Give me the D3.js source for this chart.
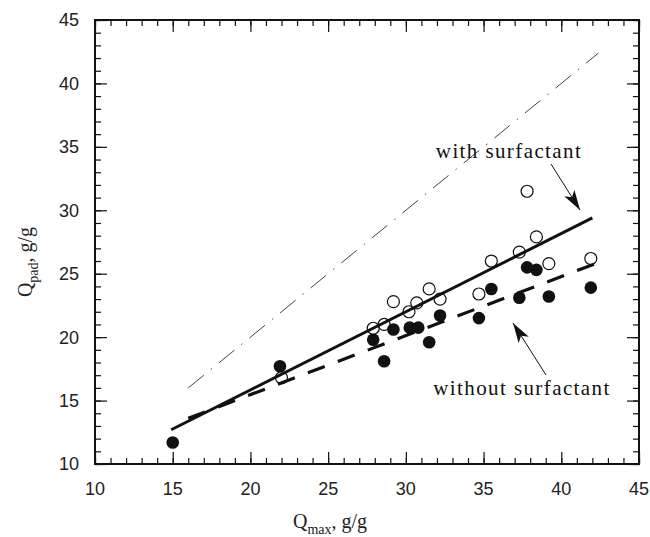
<!DOCTYPE html>
<html><head><meta charset="utf-8">
<script src="https://cdn.jsdelivr.net/npm/d3@7"></script>
<style>body{margin:0;background:#fff}</style>
</head><body>
<svg id="c" width="650" height="537"></svg>
<script>
// ---- data ----
const withX = [22, 27.9, 28.6, 29.2, 30.2, 30.7, 31.5, 32.2, 34.7, 35.5, 37.3, 37.8, 38.4, 39.2, 41.9];
const withY = [16.8, 20.7, 21.0, 22.8, 22.0, 22.7, 23.8, 23.0, 23.4, 26.0, 26.7, 31.5, 27.9, 25.8, 26.2];
const withoutX = [15, 21.9, 27.9, 28.6, 29.2, 30.25, 30.8, 31.5, 32.2, 34.7, 35.5, 37.3, 37.8, 38.4, 39.2, 41.9];
const withoutY = [11.7, 17.7, 19.8, 18.1, 20.6, 20.75, 20.75, 19.6, 21.7, 21.5, 23.8, 23.1, 25.5, 25.3, 23.2, 23.9];
const fitWith = [[14.9, 12.7], [42.0, 29.4]];
const fitWithout = [[16.0, 13.6], [42.2, 25.8]];
const identity = [[16.0, 16.0], [42.4, 42.4]];
const xTicks = [10, 15, 20, 25, 30, 35, 40, 45];
const yTicks = [10, 15, 20, 25, 30, 35, 40, 45];
const minorTicks = d3.range(10, 46, 1);

const svg = d3.select("#c");
const L = 95, R = 639, T = 20, B = 464;
const x = d3.scaleLinear().domain([10, 45]).range([L, R]);
const y = d3.scaleLinear().domain([10, 45]).range([B, T]);

// ticks (inward on all sides)
const g = svg.append("g");
function addAxis(axisGen, transform, tickVals, size) {
  g.append("g").attr("transform", transform)
    .call(axisGen.tickValues(tickVals).tickSize(size).tickFormat(""))
    .call(s => s.select(".domain").remove())
    .call(s => s.selectAll("line").attr("stroke", "#111").attr("stroke-width", 1.2));
}
addAxis(d3.axisTop(x), `translate(0,${B})`, minorTicks, 6);
addAxis(d3.axisTop(x), `translate(0,${B})`, xTicks, 12);
addAxis(d3.axisBottom(x), `translate(0,${T})`, minorTicks, 6);
addAxis(d3.axisBottom(x), `translate(0,${T})`, xTicks, 12);
addAxis(d3.axisRight(y), `translate(${L},0)`, minorTicks, 6);
addAxis(d3.axisRight(y), `translate(${L},0)`, yTicks, 12);
addAxis(d3.axisLeft(y), `translate(${R},0)`, minorTicks, 6);
addAxis(d3.axisLeft(y), `translate(${R},0)`, yTicks, 12);

svg.append("rect").attr("x", L).attr("y", T).attr("width", R - L).attr("height", B - T)
  .attr("fill", "none").attr("stroke", "#111").attr("stroke-width", 2);

// tick labels
svg.append("g").selectAll("text").data(xTicks).join("text")
  .attr("x", d => x(d)).attr("y", 495).attr("text-anchor", "middle")
  .attr("font-family", "Liberation Sans, Arial, sans-serif").attr("font-size", 18).attr("fill", "#222")
  .text(d => d);
svg.append("g").selectAll("text").data(yTicks).join("text")
  .attr("x", 79).attr("y", d => y(d)).attr("dy", "0.36em").attr("text-anchor", "end")
  .attr("font-family", "Liberation Sans, Arial, sans-serif").attr("font-size", 18).attr("fill", "#222")
  .text(d => d);

// axis titles
const serif = "Liberation Serif, Times New Roman, serif";
const xt = svg.append("text").attr("x", 330).attr("y", 528).attr("text-anchor", "middle")
  .attr("font-family", serif).attr("font-size", 20).attr("fill", "#222");
xt.append("tspan").text("Q");
xt.append("tspan").attr("font-size", 14).attr("dy", 6).text("max");
xt.append("tspan").attr("dy", -6).text(", g/g");

const yt = svg.append("text").attr("transform", "translate(32,262) rotate(-90)").attr("text-anchor", "middle")
  .attr("font-family", serif).attr("font-size", 20).attr("fill", "#222");
yt.append("tspan").text("Q");
yt.append("tspan").attr("font-size", 14).attr("dy", 6).text("pad");
yt.append("tspan").attr("dy", -6).text(", g/g");

// lines
const line = d3.line().x(d => x(d[0])).y(d => y(d[1]));
svg.append("path").attr("d", line(identity)).attr("fill", "none").attr("stroke", "#444")
  .attr("stroke-width", 1).attr("stroke-dasharray", "20,9,1.5,9");
svg.append("path").attr("d", line(fitWithout)).attr("fill", "none").attr("stroke", "#111")
  .attr("stroke-width", 3.2).attr("stroke-dasharray", "18,14");
svg.append("path").attr("d", line(fitWith)).attr("fill", "none").attr("stroke", "#111")
  .attr("stroke-width", 3);

// points
svg.append("g").selectAll("circle").data(withoutX.map((v, i) => [v, withoutY[i]])).join("circle")
  .attr("cx", d => x(d[0])).attr("cy", d => y(d[1])).attr("r", 6.3).attr("fill", "#111");
svg.append("g").selectAll("circle").data(withX.map((v, i) => [v, withY[i]])).join("circle")
  .attr("cx", d => x(d[0])).attr("cy", d => y(d[1])).attr("r", 6).attr("fill", "none")
  .attr("stroke", "#111").attr("stroke-width", 1.2);

// annotations
svg.append("defs").append("marker").attr("id", "ah").attr("viewBox", "0 0 20 12")
  .attr("refX", 20).attr("refY", 6).attr("markerWidth", 20).attr("markerHeight", 12)
  .attr("markerUnits", "userSpaceOnUse").attr("orient", "auto")
  .append("path").attr("d", "M0,0 L20,6 L0,12 L5,6 Z").attr("fill", "#111");

svg.append("text").attr("x", 509).attr("y", 158).attr("text-anchor", "middle")
  .attr("font-family", serif).attr("font-size", 21).attr("letter-spacing", 1.4).attr("fill", "#111")
  .text("with surfactant");
svg.append("line").attr("x1", 551).attr("y1", 164).attr("x2", 580).attr("y2", 210)
  .attr("stroke", "#111").attr("stroke-width", 1).attr("marker-end", "url(#ah)");

svg.append("text").attr("x", 522).attr("y", 395).attr("text-anchor", "middle")
  .attr("font-family", serif).attr("font-size", 21).attr("letter-spacing", 1.4).attr("fill", "#111")
  .text("without surfactant");
svg.append("line").attr("x1", 546).attr("y1", 375).attr("x2", 513).attr("y2", 323)
  .attr("stroke", "#111").attr("stroke-width", 1).attr("marker-end", "url(#ah)");
</script>
</body></html>
